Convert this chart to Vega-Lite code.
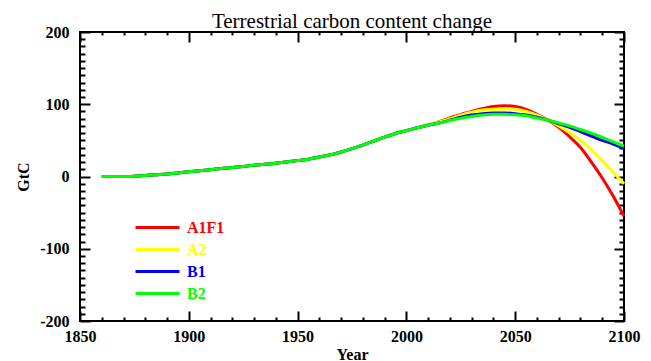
{
  "$schema": "https://vega.github.io/schema/vega-lite/v6.json",
  "autosize": "none",
  "width": 544,
  "height": 289,
  "padding": {"left": 80, "top": 32, "right": 27, "bottom": 40},
  "background": "white",
  "title": {"text": "Terrestrial carbon content change", "font": "Liberation Serif", "fontSize": 21, "fontWeight": "normal", "color": "black", "anchor": "middle", "offset": -8},
  "config": {
    "view": {"stroke": "black", "strokeWidth": 2},
    "axis": {"grid": false, "domain": false, "tickColor": "black", "labelFont": "Liberation Serif", "labelFontSize": 16, "labelFontWeight": "bold", "labelColor": "black", "titleFont": "Liberation Serif", "titleFontSize": 16, "titleFontWeight": "bold", "titleColor": "black"}
  },
  "data": {"values": [
    {"year":1860,"s":"A1F1","v":0},{"year":1865,"s":"A1F1","v":0},{"year":1870,"s":"A1F1","v":0},{"year":1875,"s":"A1F1","v":0.5},{"year":1880,"s":"A1F1","v":1.5},{"year":1885,"s":"A1F1","v":2.5},{"year":1890,"s":"A1F1","v":3.5},{"year":1895,"s":"A1F1","v":5},{"year":1900,"s":"A1F1","v":6.5},{"year":1905,"s":"A1F1","v":8},{"year":1910,"s":"A1F1","v":9.5},{"year":1915,"s":"A1F1","v":11},{"year":1920,"s":"A1F1","v":12.5},{"year":1925,"s":"A1F1","v":14},{"year":1930,"s":"A1F1","v":15.5},{"year":1935,"s":"A1F1","v":17},{"year":1940,"s":"A1F1","v":18.5},{"year":1945,"s":"A1F1","v":20},{"year":1950,"s":"A1F1","v":22},{"year":1955,"s":"A1F1","v":24},{"year":1960,"s":"A1F1","v":27},{"year":1965,"s":"A1F1","v":30},{"year":1970,"s":"A1F1","v":34},{"year":1975,"s":"A1F1","v":38.5},{"year":1980,"s":"A1F1","v":43.5},{"year":1985,"s":"A1F1","v":49},{"year":1990,"s":"A1F1","v":54.5},{"year":1995,"s":"A1F1","v":59.5},{"year":2000,"s":"A1F1","v":63.5},{"year":2005,"s":"A1F1","v":67.5},{"year":2010,"s":"A1F1","v":71.5},
    {"year":2015,"s":"A1F1","v":76},{"year":2020,"s":"A1F1","v":81},{"year":2025,"s":"A1F1","v":86},{"year":2030,"s":"A1F1","v":90},{"year":2035,"s":"A1F1","v":94},{"year":2040,"s":"A1F1","v":97},{"year":2045,"s":"A1F1","v":98},{"year":2050,"s":"A1F1","v":97},{"year":2055,"s":"A1F1","v":93},{"year":2060,"s":"A1F1","v":86},{"year":2065,"s":"A1F1","v":78},{"year":2070,"s":"A1F1","v":68},{"year":2075,"s":"A1F1","v":55},{"year":2080,"s":"A1F1","v":40},{"year":2085,"s":"A1F1","v":20},{"year":2090,"s":"A1F1","v":-2},{"year":2095,"s":"A1F1","v":-27},{"year":2100,"s":"A1F1","v":-55},
    {"year":1860,"s":"A2","v":0},{"year":1865,"s":"A2","v":0},{"year":1870,"s":"A2","v":0},{"year":1875,"s":"A2","v":0.5},{"year":1880,"s":"A2","v":1.5},{"year":1885,"s":"A2","v":2.5},{"year":1890,"s":"A2","v":3.5},{"year":1895,"s":"A2","v":5},{"year":1900,"s":"A2","v":6.5},{"year":1905,"s":"A2","v":8},{"year":1910,"s":"A2","v":9.5},{"year":1915,"s":"A2","v":11},{"year":1920,"s":"A2","v":12.5},{"year":1925,"s":"A2","v":14},{"year":1930,"s":"A2","v":15.5},{"year":1935,"s":"A2","v":17},{"year":1940,"s":"A2","v":18.5},{"year":1945,"s":"A2","v":20},{"year":1950,"s":"A2","v":22},{"year":1955,"s":"A2","v":24},{"year":1960,"s":"A2","v":27},{"year":1965,"s":"A2","v":30},{"year":1970,"s":"A2","v":34},{"year":1975,"s":"A2","v":38.5},{"year":1980,"s":"A2","v":43.5},{"year":1985,"s":"A2","v":49},{"year":1990,"s":"A2","v":54.5},{"year":1995,"s":"A2","v":59.5},{"year":2000,"s":"A2","v":63.5},{"year":2005,"s":"A2","v":67.5},{"year":2010,"s":"A2","v":71.5},
    {"year":2015,"s":"A2","v":75.5},{"year":2020,"s":"A2","v":80},{"year":2025,"s":"A2","v":85},{"year":2030,"s":"A2","v":89},{"year":2035,"s":"A2","v":92},{"year":2040,"s":"A2","v":93},{"year":2045,"s":"A2","v":93.5},{"year":2050,"s":"A2","v":93},{"year":2055,"s":"A2","v":90},{"year":2060,"s":"A2","v":85},{"year":2065,"s":"A2","v":78},{"year":2070,"s":"A2","v":70},{"year":2075,"s":"A2","v":61},{"year":2080,"s":"A2","v":50},{"year":2085,"s":"A2","v":37},{"year":2090,"s":"A2","v":22},{"year":2095,"s":"A2","v":6},{"year":2100,"s":"A2","v":-10},
    {"year":1860,"s":"B1","v":0},{"year":1865,"s":"B1","v":0},{"year":1870,"s":"B1","v":0},{"year":1875,"s":"B1","v":0.5},{"year":1880,"s":"B1","v":1.5},{"year":1885,"s":"B1","v":2.5},{"year":1890,"s":"B1","v":3.5},{"year":1895,"s":"B1","v":5},{"year":1900,"s":"B1","v":6.5},{"year":1905,"s":"B1","v":8},{"year":1910,"s":"B1","v":9.5},{"year":1915,"s":"B1","v":11},{"year":1920,"s":"B1","v":12.5},{"year":1925,"s":"B1","v":14},{"year":1930,"s":"B1","v":15.5},{"year":1935,"s":"B1","v":17},{"year":1940,"s":"B1","v":18.5},{"year":1945,"s":"B1","v":20},{"year":1950,"s":"B1","v":22},{"year":1955,"s":"B1","v":24},{"year":1960,"s":"B1","v":27},{"year":1965,"s":"B1","v":30},{"year":1970,"s":"B1","v":34},{"year":1975,"s":"B1","v":38.5},{"year":1980,"s":"B1","v":43.5},{"year":1985,"s":"B1","v":49},{"year":1990,"s":"B1","v":54.5},{"year":1995,"s":"B1","v":59.5},{"year":2000,"s":"B1","v":63.5},{"year":2005,"s":"B1","v":67.5},{"year":2010,"s":"B1","v":71},
    {"year":2015,"s":"B1","v":74},{"year":2020,"s":"B1","v":78},{"year":2025,"s":"B1","v":82},{"year":2030,"s":"B1","v":85},{"year":2035,"s":"B1","v":87},{"year":2040,"s":"B1","v":88},{"year":2045,"s":"B1","v":88},{"year":2050,"s":"B1","v":87},{"year":2055,"s":"B1","v":85},{"year":2060,"s":"B1","v":82},{"year":2065,"s":"B1","v":78},{"year":2070,"s":"B1","v":73},{"year":2075,"s":"B1","v":68},{"year":2080,"s":"B1","v":62},{"year":2085,"s":"B1","v":56},{"year":2090,"s":"B1","v":50},{"year":2095,"s":"B1","v":45},{"year":2100,"s":"B1","v":39},
    {"year":1860,"s":"B2","v":0},{"year":1865,"s":"B2","v":0},{"year":1870,"s":"B2","v":0},{"year":1875,"s":"B2","v":0.5},{"year":1880,"s":"B2","v":1.5},{"year":1885,"s":"B2","v":2.5},{"year":1890,"s":"B2","v":3.5},{"year":1895,"s":"B2","v":5},{"year":1900,"s":"B2","v":6.5},{"year":1905,"s":"B2","v":8},{"year":1910,"s":"B2","v":9.5},{"year":1915,"s":"B2","v":11},{"year":1920,"s":"B2","v":12.5},{"year":1925,"s":"B2","v":14},{"year":1930,"s":"B2","v":15.5},{"year":1935,"s":"B2","v":17},{"year":1940,"s":"B2","v":18.5},{"year":1945,"s":"B2","v":20},{"year":1950,"s":"B2","v":22},{"year":1955,"s":"B2","v":24},{"year":1960,"s":"B2","v":27},{"year":1965,"s":"B2","v":30},{"year":1970,"s":"B2","v":34},{"year":1975,"s":"B2","v":38.5},{"year":1980,"s":"B2","v":43.5},{"year":1985,"s":"B2","v":49},{"year":1990,"s":"B2","v":54.5},{"year":1995,"s":"B2","v":59.5},{"year":2000,"s":"B2","v":63.5},{"year":2005,"s":"B2","v":67.5},{"year":2010,"s":"B2","v":71},
    {"year":2015,"s":"B2","v":74},{"year":2020,"s":"B2","v":77.5},{"year":2025,"s":"B2","v":80.5},{"year":2030,"s":"B2","v":83},{"year":2035,"s":"B2","v":85},{"year":2040,"s":"B2","v":86},{"year":2045,"s":"B2","v":86},{"year":2050,"s":"B2","v":85.5},{"year":2055,"s":"B2","v":84},{"year":2060,"s":"B2","v":81},{"year":2065,"s":"B2","v":78},{"year":2070,"s":"B2","v":74},{"year":2075,"s":"B2","v":70},{"year":2080,"s":"B2","v":65},{"year":2085,"s":"B2","v":60},{"year":2090,"s":"B2","v":54},{"year":2095,"s":"B2","v":48},{"year":2100,"s":"B2","v":42}
  ]},
  "resolve": {"axis": {"x": "independent", "y": "independent"}},
  "layer": [
    {
      "mark": {"type": "line", "strokeWidth": 3, "interpolate": "monotone"},
      "encoding": {
        "x": {"field": "year", "type": "quantitative", "scale": {"domain": [1850, 2100], "nice": false, "zero": false},
              "axis": {"orient": "bottom", "title": "Year", "values": [1850, 1900, 1950, 2000, 2050, 2100], "format": "d", "tickSize": -10, "tickWidth": 2, "labelPadding": 17, "titlePadding": 2, "labelFlush": false}},
        "y": {"field": "v", "type": "quantitative", "scale": {"domain": [-200, 200], "nice": false, "zero": false},
              "axis": {"orient": "left", "title": "GtC", "values": [-200, -100, 0, 100, 200], "labelExpr": "toString(datum.value)", "tickSize": -10, "tickWidth": 2, "labelPadding": 21, "titlePadding": 8, "labelFlush": false}},
        "color": {"field": "s", "type": "nominal", "scale": {"domain": ["A1F1", "A2", "B1", "B2"], "range": ["#ff0000", "#ffff00", "#0000ff", "#00ff00"]},
                  "legend": {"orient": "none", "legendX": 54, "legendY": 185, "title": null, "padding": 0, "rowPadding": 1, "symbolType": "stroke", "symbolSize": 1936, "symbolStrokeWidth": 3, "clipHeight": 21, "labelOffset": 6, "labelFont": "Liberation Serif", "labelFontSize": 16, "labelFontWeight": "bold",
                             "encode": {"labels": {"update": {"fill": {"scale": "color", "field": "value"}}}}}}
      }
    },
    {
      "mark": {"type": "line", "strokeOpacity": 0},
      "encoding": {
        "x": {"field": "year", "type": "quantitative", "axis": {"orient": "bottom", "title": null, "labels": false, "values": [1860,1870,1880,1890,1910,1920,1930,1940,1960,1970,1980,1990,2010,2020,2030,2040,2060,2070,2080,2090], "tickSize": -4, "tickWidth": 2}},
        "y": {"field": "v", "type": "quantitative", "axis": {"orient": "left", "title": null, "labels": false, "values": [-190,-180,-170,-160,-150,-140,-130,-120,-110,-90,-80,-70,-60,-50,-40,-30,-20,-10,10,20,30,40,50,60,70,80,90,110,120,130,140,150,160,170,180,190], "tickSize": -5, "tickWidth": 2}},
        "detail": {"field": "s"}
      }
    },
    {
      "mark": {"type": "line", "strokeOpacity": 0},
      "encoding": {
        "x": {"field": "year", "type": "quantitative", "axis": {"orient": "top", "title": null, "labels": false, "values": [1850, 1900, 1950, 2000, 2050, 2100], "tickSize": -10, "tickWidth": 2}},
        "y": {"field": "v", "type": "quantitative", "axis": {"orient": "right", "title": null, "labels": false, "values": [-200, -100, 0, 100, 200], "tickSize": -10, "tickWidth": 2}},
        "detail": {"field": "s"}
      }
    },
    {
      "mark": {"type": "line", "strokeOpacity": 0},
      "encoding": {
        "x": {"field": "year", "type": "quantitative", "axis": {"orient": "top", "title": null, "labels": false, "values": [1860,1870,1880,1890,1910,1920,1930,1940,1960,1970,1980,1990,2010,2020,2030,2040,2060,2070,2080,2090], "tickSize": -3, "tickWidth": 2}},
        "y": {"field": "v", "type": "quantitative", "axis": {"orient": "right", "title": null, "labels": false, "values": [-190,-180,-170,-160,-150,-140,-130,-120,-110,-90,-80,-70,-60,-50,-40,-30,-20,-10,10,20,30,40,50,60,70,80,90,110,120,130,140,150,160,170,180,190], "tickSize": -5, "tickWidth": 2}},
        "detail": {"field": "s"}
      }
    }
  ]
}
